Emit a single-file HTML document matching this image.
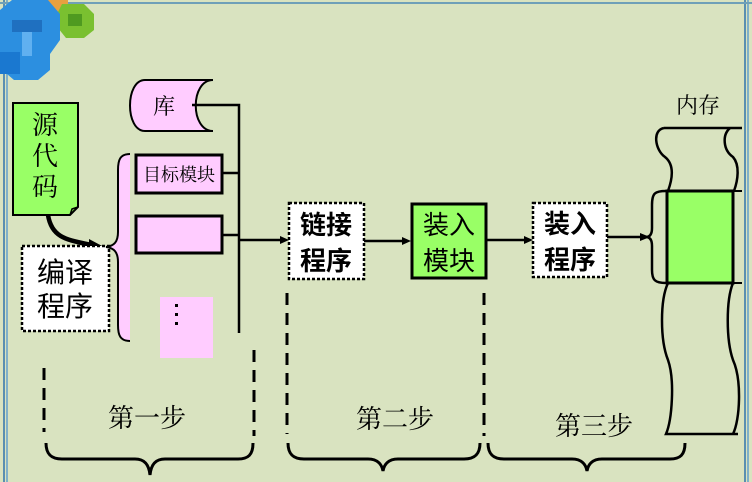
<!DOCTYPE html>
<html><head><meta charset="utf-8"><style>
html,body{margin:0;padding:0;background:#d9e3c0;}
svg{display:block}
.serif{font-family:"Liberation Serif","Noto Serif CJK SC",serif;}
.sans{font-family:"Liberation Sans","Noto Sans CJK SC",sans-serif;}
</style></head><body>
<svg width="752" height="482" viewBox="0 0 752 482" xmlns="http://www.w3.org/2000/svg">
<rect width="752" height="482" fill="#d9e3c0"/>
<rect x="3" y="0" width="2" height="482" fill="#5a8fb0"/><rect x="6" y="0" width="2" height="482" fill="#7fb0c8"/>
<rect x="744" y="0" width="2" height="482" fill="#5a8fb0"/><rect x="747" y="0" width="2" height="482" fill="#7fb0c8"/>
<rect x="0" y="2" width="752" height="2" fill="#6fa0b8"/>
<!-- icon -->
<g>
<rect x="46" y="0" width="22" height="14" fill="#e8a040"/>
<polygon points="62,4 84,4 94,14 94,30 84,38 66,38 58,28 58,12" fill="#7ac030"/>
<rect x="68" y="14" width="14" height="12" fill="#4f9a20"/>
<polygon points="0,10 12,0 48,0 60,14 60,40 50,54 50,70 38,80 14,80 0,68" fill="#2c8fe0"/>
<rect x="12" y="20" width="30" height="12" fill="#1f70c0"/>
<rect x="22" y="32" width="10" height="24" fill="#60b0f0"/>
<rect x="0" y="52" width="20" height="22" fill="#1a78d0"/>
</g>
<path d="M13,103 H78 V207 L70,215 H13 Z" fill="#99ff66" stroke="#000" stroke-width="2"/>
<path d="M70,215 L72,209 L78,207" fill="none" stroke="#000" stroke-width="1.5"/>
<text class="serif" x="45" y="134" font-size="26" text-anchor="middle">源</text>
<text class="serif" x="45" y="165" font-size="26" text-anchor="middle">代</text>
<text class="serif" x="45" y="196" font-size="26" text-anchor="middle">码</text>
<path d="M48,215 C52,240 70,240 96,246" fill="none" stroke="#000" stroke-width="4.5"/>
<polygon points="104,247 89,239 89,253" fill="#000"/>
<rect x="22" y="246" width="87" height="85" fill="#fff" stroke="#000" stroke-width="2.5" stroke-dasharray="3,2"/>
<text class="sans" x="65" y="282" font-size="28" text-anchor="middle">编译</text>
<text class="sans" x="65" y="316" font-size="28" text-anchor="middle">程序</text>
<path d="M130,154 C120,154 118,160 118,170 V232 C118,242 114,246 106,247 C114,248 118,252 118,262 V325 C118,335 120,341 130,341 Z" fill="#ffccff"/>
<path d="M130,154 C120,154 118,160 118,170 V232 C118,242 114,246 106,247 C114,248 118,252 118,262 V325 C118,335 120,341 130,341" fill="none" stroke="#000" stroke-width="2"/>
<path d="M213,80 H145 C125,80 125,131 145,131 H213 C190,131 190,80 213,80 Z" fill="#ffccff" stroke="#000" stroke-width="2"/>
<text class="serif" x="164" y="114" font-size="22" text-anchor="middle">库</text>
<rect x="136" y="155" width="86" height="38" fill="#ffccff" stroke="#000" stroke-width="3"/>
<text class="serif" x="179" y="181" font-size="18" text-anchor="middle">目标模块</text>
<rect x="136" y="216" width="86" height="37" fill="#ffccff" stroke="#000" stroke-width="3"/>
<rect x="160" y="297" width="53" height="61" fill="#ffccff"/>
<rect x="175" y="304" width="3" height="3" fill="#000"/><rect x="175" y="313" width="3" height="3" fill="#000"/><rect x="175" y="322" width="3" height="3" fill="#000"/>
<g stroke="#000" stroke-width="2.5" fill="none">
<path d="M192,105 H239 V333"/><path d="M222,173 H239"/><path d="M222,235 H239"/>
<path d="M239,240 H282"/><path d="M364,241 H404"/><path d="M486,240 H527"/><path d="M607,237 H642"/>
</g>
<polygon points="289,240 280,236 280,244" fill="#000"/>
<polygon points="411,241 402,237 402,245" fill="#000"/>
<polygon points="533,240 524,236 524,244" fill="#000"/>
<polygon points="650,237 640,233 640,241" fill="#000"/>
<rect x="289" y="203" width="75" height="76" fill="#fff" stroke="#000" stroke-width="2.5" stroke-dasharray="3,2"/>
<text class="sans" x="326" y="234" font-size="26" font-weight="bold" text-anchor="middle">链接</text>
<text class="sans" x="326" y="270" font-size="26" font-weight="bold" text-anchor="middle">程序</text>
<rect x="412" y="204" width="74" height="74" fill="#99ff66" stroke="#000" stroke-width="3"/>
<text class="sans" x="449" y="234" font-size="26" text-anchor="middle">装入</text>
<text class="sans" x="449" y="270" font-size="26" text-anchor="middle">模块</text>
<rect x="533" y="203" width="74" height="74" fill="#fff" stroke="#000" stroke-width="2.5" stroke-dasharray="3,2"/>
<text class="sans" x="570" y="233" font-size="26" font-weight="bold" text-anchor="middle">装入</text>
<text class="sans" x="570" y="269" font-size="26" font-weight="bold" text-anchor="middle">程序</text>
<text class="serif" x="698" y="113" font-size="22" text-anchor="middle">内存</text>
<g stroke="#000" stroke-width="2.5" fill="none">
<path d="M664,128 H742"/>
<path d="M664,128 C652,130 655,150 665,157 C675,165 672,180 668,191"/>
<path d="M730,128 C722,135 723,150 733,157 C740,165 738,180 734,191"/>
<path d="M668,283 C660,300 660,340 668,360 C675,380 672,420 666,434 H738"/>
<path d="M733,283 C726,300 726,340 733,360 C742,380 740,420 733,434"/>
<path d="M666,191 C655,191 652,193 652,205 V228 C652,234 650,237 646,237 C650,237 652,240 652,246 V270 C652,280 655,283 666,283"/>
</g>
<rect x="667" y="191" width="66" height="92" fill="#99ff66" stroke="#000" stroke-width="3"/>
<path d="M733,191 H742 M733,283 H742" stroke="#000" stroke-width="2"/>
<g stroke="#000" stroke-width="3" stroke-dasharray="12,8" fill="none">
<path d="M44,368 V432"/><path d="M254,350 V436"/><path d="M287,293 V434"/><path d="M484,293 V436"/>
</g>
<g stroke="#000" stroke-width="3" fill="none">
<path d="M46,443 C46,455 52,459 62,459 H135 C145,459 149,465 150,475 C151,465 155,459 165,459 H238 C248,459 253,455 253,443"/>
<path d="M288,443 C288,455 294,459 304,459 H368 C378,459 382,465 383,471 C384,465 388,459 398,459 H464 C474,459 480,455 480,443"/>
<path d="M488,443 C488,455 494,459 504,459 H572 C582,459 586,465 587,471 C588,465 592,459 602,459 H670 C680,459 685,455 685,443"/>
</g>
<text class="serif" x="147" y="427" font-size="26" text-anchor="middle">第一步</text>
<text class="serif" x="395" y="428" font-size="26" text-anchor="middle">第二步</text>
<text class="serif" x="594" y="435" font-size="26" text-anchor="middle">第三步</text>
</svg>
</body></html>
